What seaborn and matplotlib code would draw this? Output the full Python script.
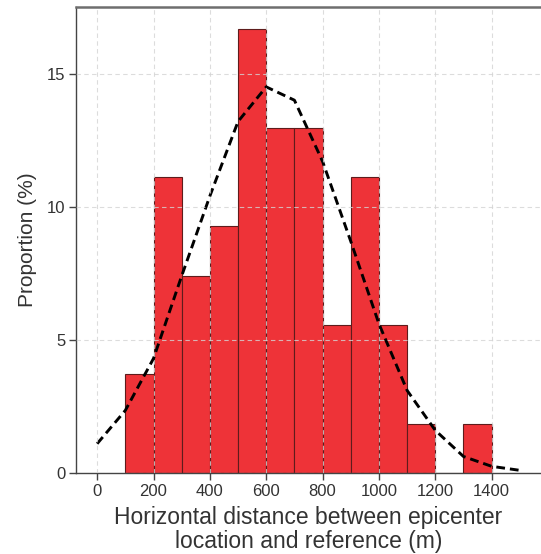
import numpy as np
import pandas as pd
import seaborn as sns
import matplotlib
matplotlib.use("Agg")
import matplotlib.pyplot as plt

# Histogram: bin edges (m) and proportion per bin (%)
bin_edges = [100, 200, 300, 400, 500, 600, 700, 800, 900, 1000, 1100, 1200, 1300, 1400]
proportion = [3.70, 11.11, 7.41, 9.26, 16.67, 12.96, 12.96, 5.56, 11.11, 5.56, 1.85, 0.0, 1.85]

# Fitted curve (dashed)
curve_x = [0, 100, 200, 300, 400, 500, 600, 700, 800, 900, 1000, 1100, 1200, 1300, 1400, 1500]
curve_y = [1.1, 2.35, 4.3, 7.4, 10.4, 13.2, 14.5, 14.0, 11.7, 8.7, 5.6, 3.1, 1.6, 0.62, 0.25, 0.1]

x_ticks = [0, 200, 400, 600, 800, 1000, 1200, 1400]
y_ticks = [0, 5, 10, 15]

sns.set_style("white")
plt.rcParams['font.family'] = ['Liberation Sans', 'DejaVu Sans']

centers = [(a + b) / 2 for a, b in zip(bin_edges[:-1], bin_edges[1:])]
df_hist = pd.DataFrame({'x': centers, 'w': proportion})
df_curve = pd.DataFrame({'x': curve_x, 'y': curve_y})

fig = plt.figure(figsize=(5.41, 5.54), dpi=100)
ax = fig.add_axes([76 / 541, 81 / 554, 1 - 76 / 541, 466 / 554])

sns.histplot(data=df_hist, x='x', weights='w', bins=bin_edges, stat='count',
             color='#ee3338', alpha=1.0, edgecolor='#5e1c1c', linewidth=0.8, ax=ax)
sns.lineplot(data=df_curve, x='x', y='y', color='black', linewidth=2.1,
             dashes=False, ax=ax)
ax.lines[0].set_dashes([3, 1.7])

ax.set_xlim(-75, 1575)
ax.set_ylim(0, 17.5)
ax.set_xticks(x_ticks)
ax.set_yticks(y_ticks)

ax.grid(True, linestyle=(0, (4, 3)), color='#d4d4d4', linewidth=0.8, alpha=0.8)
ax.set_axisbelow(False)

ax.spines['right'].set_visible(False)
for s in ['left', 'bottom']:
    ax.spines[s].set_color('#444444')
    ax.spines[s].set_linewidth(1.0)
ax.spines['top'].set_color('#6e6e6e')
ax.spines['top'].set_linewidth(1.8)

ax.tick_params(axis='both', direction='out', length=5, width=1, color='#444444',
               labelsize=12, labelcolor='#333333', bottom=True, left=True)
ax.tick_params(axis='x', pad=3)
ax.tick_params(axis='y', pad=2.5)

ax.set_xlabel('Horizontal distance between epicenter\nlocation and reference (m)',
              fontsize=16.5, color='#333333', linespacing=1.05, labelpad=5)
ax.set_ylabel('Proportion (%)', fontsize=15, color='#333333', labelpad=7)

fig.savefig('out.png', dpi=100)
